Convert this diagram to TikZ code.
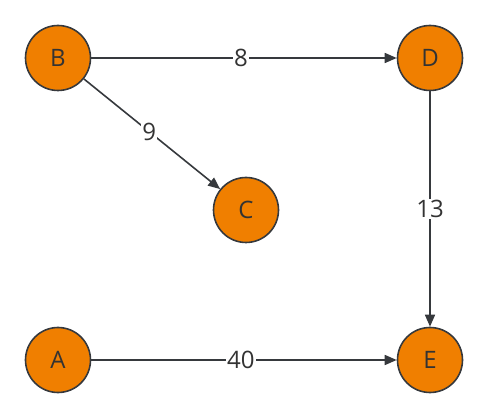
\documentclass[tikz,border=0pt]{standalone}
\usepackage{fontspec}
\setmainfont{Open Sans}
\usetikzlibrary{arrows.meta}
\definecolor{nodefill}{HTML}{F07F00}
\definecolor{nodeline}{HTML}{36393D}
\definecolor{txt}{HTML}{333333}
\begin{document}
\begin{tikzpicture}[x=1pt,y=-1pt,
  vert/.style={circle,draw=nodeline,fill=nodefill,line width=1.6pt,minimum size=65pt,inner sep=0pt,text=txt,font=\fontsize{24}{28}\selectfont},
  edge/.style={draw=nodeline,line width=1.6pt,-{Triangle[length=12pt,width=10pt]}},
  wlab/.style={fill=white,inner sep=1pt,text=txt,font=\fontsize{24}{28}\selectfont}]
\useasboundingbox (0,0) rectangle (487,419);
\node[vert] (B) at (58,58) {B};
\node[vert] (D) at (430,58) {D};
\node[vert] (C) at (246,210) {C};
\node[vert] (A) at (58,360) {A};
\node[vert] (E) at (430,360) {E};
\draw[edge] (B) -- node[wlab,pos=0.49]{8} (D);
\draw[edge] (B) -- node[wlab,pos=0.48]{9} (C);
\draw[edge] (D) -- node[wlab]{13} (E);
\draw[edge] (A) -- node[wlab,pos=0.49]{40} (E);
\end{tikzpicture}
\end{document}
